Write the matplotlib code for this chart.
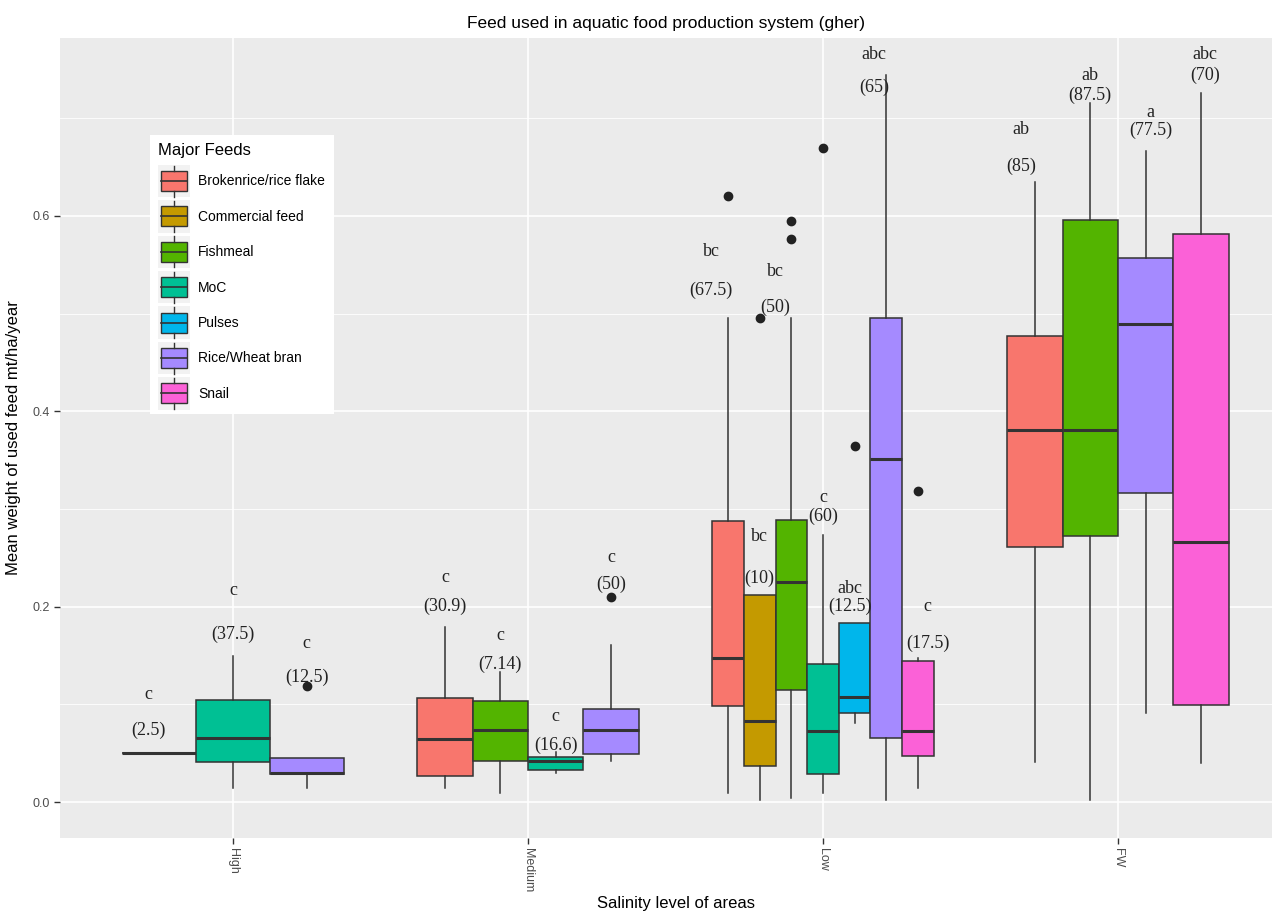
import matplotlib
matplotlib.use("Agg")
import matplotlib.pyplot as plt
from matplotlib.patches import Rectangle
from matplotlib.lines import Line2D
from matplotlib.legend_handler import HandlerBase

# salinity groups and feeds
groups = ["High", "Medium", "Low", "FW"]
feeds = ["Brokenrice/rice flake", "Commercial feed", "Fishmeal", "MoC",
         "Pulses", "Rice/Wheat bran", "Snail"]
feed_colors = ["#F8766D", "#C49A00", "#53B400", "#00C094",
               "#00B6EB", "#A58AFF", "#FB61D7"]

# one entry per box
box_group = [0, 0, 0,
             1, 1, 1, 1,
             2, 2, 2, 2, 2, 2, 2,
             3, 3, 3, 3]
box_feed = [0, 3, 5,
            0, 2, 3, 5,
            0, 1, 2, 3, 4, 5, 6,
            0, 2, 5, 6]
box_whislo = [0.050, 0.014, 0.014,
              0.014, 0.009, 0.030, 0.042,
              0.009, 0.002, 0.004, 0.009, 0.081, 0.002, 0.014,
              0.041, 0.002, 0.091, 0.040]
box_q1 = [0.050, 0.041, 0.029,
          0.027, 0.042, 0.033, 0.049,
          0.098, 0.037, 0.115, 0.029, 0.091, 0.066, 0.047,
          0.261, 0.272, 0.316, 0.099]
box_med = [0.050, 0.066, 0.030,
           0.065, 0.074, 0.042, 0.074,
           0.147, 0.083, 0.225, 0.073, 0.108, 0.351, 0.073,
           0.381, 0.381, 0.489, 0.266]
box_q3 = [0.050, 0.104, 0.045,
          0.107, 0.103, 0.046, 0.095,
          0.288, 0.212, 0.289, 0.141, 0.183, 0.495, 0.144,
          0.477, 0.596, 0.557, 0.581]
box_whishi = [0.050, 0.149, 0.045,
              0.179, 0.133, 0.051, 0.161,
              0.495, 0.212, 0.495, 0.273, 0.183, 0.744, 0.147,
              0.635, 0.715, 0.666, 0.726]
box_fliers = [[], [], [0.119],
              [], [], [], [0.210],
              [0.620], [0.495], [0.595, 0.576], [0.669], [0.364], [], [0.318],
              [], [], [], []]

# significance letters and percentages above each box
box_letter = ["c", "c", "c",
              "c", "c", "c", "c",
              "bc", "bc", "bc", "c", "abc", "abc", "c",
              "ab", "ab", "a", "abc"]
box_pct = ["(2.5)", "(37.5)", "(12.5)",
           "(30.9)", "(7.14)", "(16.6)", "(50)",
           "(67.5)", "(10)", "(50)", "(60)", "(12.5)", "(65)", "(17.5)",
           "(85)", "(87.5)", "(77.5)", "(70)"]
letter_y = [0.110, 0.217, 0.162,
            0.230, 0.171, 0.088, 0.250,
            0.563, 0.272, 0.543, 0.312, 0.219, 0.765, 0.200,
            0.688, 0.744, 0.706, 0.765]
pct_y = [0.073, 0.172, 0.128,
         0.200, 0.141, 0.058, 0.223,
         0.524, 0.229, 0.506, 0.292, 0.200, 0.731, 0.162,
         0.651, 0.723, 0.688, 0.744]
label_dx = [-0.037, 0, 0,
            0, 0, 0, 0,
            -0.058, 0, -0.054, 0, -0.017, -0.04, 0.034,
            -0.047, 0, 0.017, 0.014]

plt.rcParams["font.family"] = ["Liberation Sans", "DejaVu Sans"]

fig = plt.figure(figsize=(12.74, 9.18), dpi=100)
ax = fig.add_axes([0.0471, 0.0871, 0.9513, 0.8715])
ax.set_facecolor("#EBEBEB")

# dodge positions: 0.75 total width shared by boxes in each group
positions = []
widths = []
for i in range(len(box_group)):
    g = box_group[i]
    members = [j for j in range(len(box_group)) if box_group[j] == g]
    n = len(members)
    w = 0.75 / n
    k = members.index(i)
    positions.append(g + 1 - 0.375 + w * (k + 0.5))
    widths.append(w)

stats = []
for i in range(len(box_group)):
    stats.append(dict(med=box_med[i], q1=box_q1[i], q3=box_q3[i],
                      whislo=box_whislo[i], whishi=box_whishi[i],
                      fliers=box_fliers[i]))

edge = "#333333"
bp = ax.bxp(stats, positions=positions, widths=widths, patch_artist=True,
            showcaps=False, manage_ticks=False,
            boxprops=dict(edgecolor=edge, linewidth=1.1),
            whiskerprops=dict(color=edge, linewidth=1.1),
            medianprops=dict(color=edge, linewidth=2.2),
            flierprops=dict(marker="o", markerfacecolor="#222222",
                            markeredgecolor="#222222", markersize=6))
for patch, f in zip(bp["boxes"], box_feed):
    patch.set_facecolor(feed_colors[f])
for part in ["boxes", "whiskers", "medians", "fliers"]:
    for artist in bp[part]:
        artist.set_zorder(3)

for i in range(len(box_group)):
    x = positions[i] + label_dx[i]
    ax.text(x, letter_y[i], box_letter[i], ha="center", va="center",
            family="Liberation Serif", fontsize=13, color="#222222", zorder=4)
    ax.text(x, pct_y[i], box_pct[i], ha="center", va="center",
            family="Liberation Serif", fontsize=13, color="#222222", zorder=4)

ax.set_xlim(0.414, 4.522)
ax.set_ylim(-0.0368, 0.782)
ax.set_xticks(range(1, len(groups) + 1))
ax.set_xticklabels(groups, rotation=270, va="top", ha="center")
ax.set_yticks([0.0, 0.2, 0.4, 0.6])
ax.set_yticklabels(["0.0", "0.2", "0.4", "0.6"])
ax.set_yticks([0.1, 0.3, 0.5, 0.7], minor=True)
ax.tick_params(axis="both", which="major", length=4, width=1, color="#333333",
               labelcolor="#4D4D4D", labelsize=9)
ax.tick_params(axis="y", which="minor", length=0)
ax.grid(True, which="major", color="white", linewidth=1.2, zorder=0)
ax.grid(True, which="minor", axis="y", color="white", linewidth=0.6, zorder=0)
ax.set_axisbelow(True)
for s in ax.spines.values():
    s.set_visible(False)

ax.set_title("Feed used in aquatic food production system (gher)",
             fontsize=12.5, pad=7)
ax.set_xlabel("Salinity level of areas", fontsize=12)
ax.xaxis.set_label_coords(0.508, -0.072)
ax.set_ylabel("Mean weight of used feed mt/ha/year", fontsize=12, labelpad=8)


class BoxKey(HandlerBase):
    def create_artists(self, legend, orig_handle, xdescent, ydescent,
                       width, height, fontsize, trans):
        color = orig_handle.get_facecolor()
        bg = Rectangle((-xdescent, -ydescent - 0.15 * height), width,
                       height * 1.3, facecolor="#F2F2F2", edgecolor="none",
                       transform=trans)
        bx = Rectangle((-xdescent + 0.08 * width, -ydescent + 0.1 * height),
                       0.84 * width, 0.8 * height, facecolor=color,
                       edgecolor=edge, linewidth=1.0, transform=trans)
        cx = -xdescent + 0.5 * width
        med = Line2D([-xdescent + 0.08 * width, -xdescent + 0.92 * width],
                     [-ydescent + 0.5 * height] * 2, color=edge,
                     linewidth=1.2, transform=trans)
        w1 = Line2D([cx, cx], [-ydescent + 0.9 * height,
                               -ydescent + 1.12 * height], color=edge,
                    linewidth=1.0, transform=trans)
        w2 = Line2D([cx, cx], [-ydescent - 0.12 * height,
                               -ydescent + 0.1 * height], color=edge,
                    linewidth=1.0, transform=trans)
        return [bg, bx, med, w1, w2]


handles = [Rectangle((0, 0), 1, 1, facecolor=c) for c in feed_colors]
leg = ax.legend(handles, feeds, title="Major Feeds", loc="upper left",
                bbox_to_anchor=(0.074, 0.879), borderaxespad=0,
                handler_map={Rectangle: BoxKey()}, fontsize=10,
                title_fontsize=12, handlelength=2.3, handleheight=2.39,
                labelspacing=0.75, handletextpad=0.6, borderpad=0.6,
                frameon=True, fancybox=False, framealpha=1,
                alignment="left")
leg.get_frame().set_facecolor("white")
leg.get_frame().set_edgecolor("none")
leg.set_zorder(5)

fig.savefig("out.png", dpi=100)
